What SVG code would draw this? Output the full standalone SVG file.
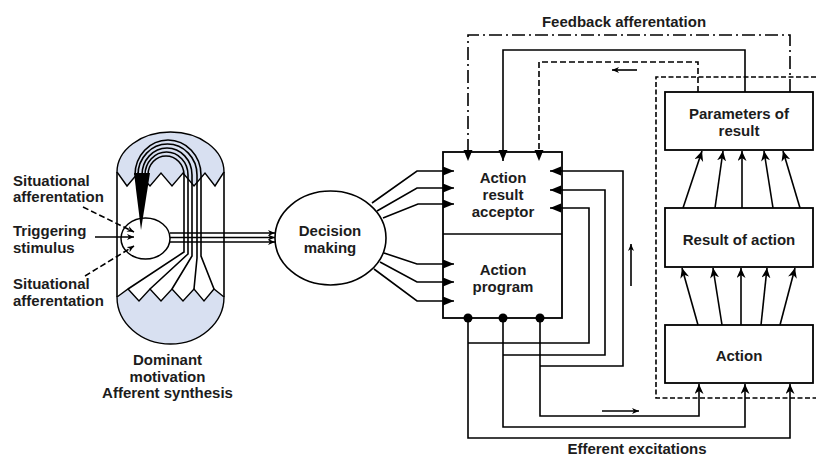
<svg xmlns="http://www.w3.org/2000/svg" width="816" height="458" viewBox="0 0 816 458">
  <defs>
    <style>
      .ln { stroke: #000; stroke-width: 1.6; fill: none; }
      .dash { stroke: #000; stroke-width: 1.6; fill: none; stroke-dasharray: 6 3; }
      .dashb { stroke: #000; stroke-width: 1.6; fill: none; stroke-dasharray: 5 2.5; }
      .dashdot { stroke: #000; stroke-width: 1.6; fill: none; stroke-dasharray: 13 4 2 4; }
      .box { stroke: #000; stroke-width: 1.8; fill: #fff; }
      .dome { fill: #d8e0f1; stroke: #000; stroke-width: 1.4; }
      text { font-family: "Liberation Sans", Arial, sans-serif; font-weight: bold; font-size: 15px; fill: #1c1c1c; }
      .c { text-anchor: middle; }
    </style>
    <marker id="tri" markerUnits="userSpaceOnUse" markerWidth="12" markerHeight="10" refX="11" refY="4.5" orient="auto">
      <path d="M0,0 L11,4.5 L0,9 z" fill="#000"/>
    </marker>
    <marker id="barb" markerUnits="userSpaceOnUse" markerWidth="11" markerHeight="10" refX="10" refY="4.5" orient="auto">
      <path d="M0,0 L10,4.5 L0,9 L3,4.5 z" fill="#000"/>
    </marker>
    <marker id="sm" markerUnits="userSpaceOnUse" markerWidth="8" markerHeight="7" refX="7" refY="3" orient="auto">
      <path d="M0,0 L7,3 L0,6 L2,3 z" fill="#000"/>
    </marker>
  </defs>

  <!-- Afferent synthesis capsule -->
  <g id="afferent-synthesis">
    <path class="dome" d="M117,172 A53.5,40 0 0 1 224,172 L215,186 L205,173 L194,186 L183,173 L172,186 L161,173 L150,186 L138,173 L127,186 z"/>
    <path class="dome" d="M117,297 A53.5,47 0 0 0 224,297 L214,289 L204,301 L194,289 L183,301 L172,289 L161,301 L150,289 L139,301 L128,289 z"/>
    <line class="ln" x1="117" y1="172" x2="117" y2="297"/>
    <line class="ln" x1="224" y1="172" x2="224" y2="297"/>
    <!-- converging pathways -->
    <path class="ln" stroke-width="1.4" d="M135,175 A33,35 0 0 1 201,175 L201,256 L214,289"/>
    <path class="ln" stroke-width="1.4" d="M138,175 A29.5,31 0 0 1 197,175 L197,258 L194,289"/>
    <path class="ln" stroke-width="1.4" d="M142,175 A25,27 0 0 1 192,175 L192,256 L172,289"/>
    <path class="ln" stroke-width="1.4" d="M145,175 A21.5,23 0 0 1 188,175 L188,254 L150,289"/>
    <path class="ln" stroke-width="1.4" d="M148,175 A18,19 0 0 1 184,175 L184,252 L128,289"/>
    <ellipse cx="145.5" cy="238.5" rx="24.5" ry="20.5" fill="#fff" stroke="#000" stroke-width="1.5"/>
    <path d="M134,173 L150,173 L141,230 z" fill="#000"/>
    <text x="167.5" y="365" class="c">Dominant</text>
    <text x="167.5" y="382" class="c">motivation</text>
    <text x="167.5" y="398" class="c">Afferent synthesis</text>
  </g>

  <g id="inputs">
    <text x="13" y="186">Situational</text>
    <text x="13" y="202">afferentation</text>
    <text x="13" y="236">Triggering</text>
    <text x="13" y="253">stimulus</text>
    <text x="13" y="289">Situational</text>
    <text x="13" y="306">afferentation</text>
  </g>

  <!-- Decision making -->
  <g id="decision">
    <ellipse cx="330.5" cy="238" rx="55.5" ry="47" fill="#fff" stroke="#000" stroke-width="1.6"/>
    <text x="330" y="236" class="c">Decision</text>
    <text x="330" y="253" class="c">making</text>
  </g>

  <!-- Acceptor / program block -->
  <g id="acceptor-program">
    <rect class="box" x="443" y="152" width="119" height="166"/>
    <line class="ln" x1="443" y1="234" x2="562" y2="234"/>
    <text x="503" y="183" class="c">Action</text>
    <text x="503" y="200" class="c">result</text>
    <text x="503" y="217" class="c">acceptor</text>
    <text x="503" y="275" class="c">Action</text>
    <text x="503" y="292" class="c">program</text>
    <circle cx="468" cy="318" r="4.5" fill="#000"/>
    <circle cx="503" cy="318" r="4.5" fill="#000"/>
    <circle cx="540" cy="318" r="4.5" fill="#000"/>
  </g>

  <!-- Outcome chain -->
  <g id="parameters">
    <rect class="box" x="665" y="92" width="148" height="58"/>
    <text x="739" y="119" class="c">Parameters of</text>
    <text x="739" y="136" class="c">result</text>
  </g>
  <g id="result">
    <rect class="box" x="665" y="208" width="148" height="59"/>
    <text x="739" y="245" class="c">Result of action</text>
  </g>
  <g id="action">
    <rect class="box" x="665" y="325" width="148" height="58"/>
    <text x="739" y="361" class="c">Action</text>
  </g>

  <g id="connectors">
    <!-- afferent inputs into the trigger circle -->
    <line class="dash" stroke-width="1.3" stroke-dasharray="4 3" x1="83" y1="207" x2="134" y2="232" marker-end="url(#sm)"/>
    <line class="ln" stroke-width="1.3" x1="95" y1="237" x2="134" y2="237" marker-end="url(#sm)"/>
    <line class="dash" stroke-width="1.3" stroke-dasharray="4 3" x1="85" y1="276" x2="134" y2="246" marker-end="url(#sm)"/>

    <!-- synthesis to decision -->
    <line class="ln" stroke-width="1.4" x1="170" y1="233" x2="275" y2="233" marker-end="url(#sm)"/>
    <line class="ln" stroke-width="1.4" x1="170" y1="237.5" x2="275" y2="237.5" marker-end="url(#sm)"/>
    <line class="ln" stroke-width="1.4" x1="170" y1="242" x2="275" y2="242" marker-end="url(#sm)"/>

    <!-- decision to acceptor and program -->
    <polyline class="ln" points="372,203 417,171 454,171" marker-end="url(#tri)"/>
    <polyline class="ln" points="377,211 417,188 454,188" marker-end="url(#tri)"/>
    <polyline class="ln" points="383,218 418,204 454,204" marker-end="url(#tri)"/>
    <polyline class="ln" points="384,253 417,264 454,264" marker-end="url(#tri)"/>
    <polyline class="ln" points="380,262 417,282 454,282" marker-end="url(#tri)"/>
    <polyline class="ln" points="374,269 417,301 454,301" marker-end="url(#tri)"/>

    <!-- feedback afferentation -->
    <polyline class="dashdot" points="790,92 790,35 468,35 468,161" marker-end="url(#tri)"/>
    <polyline class="ln" points="745,92 745,50 503,50 503,161" marker-end="url(#tri)"/>
    <polyline class="dash" points="698,92 698,62 539,62 539,161" marker-end="url(#tri)"/>
    <line class="ln" x1="637" y1="70" x2="612" y2="70" marker-end="url(#sm)"/>

    <!-- boundary of the executed action -->
    <polyline class="dashb" points="816,77 656,77 656,398 816,398"/>

    <!-- collaterals from the program back to the acceptor -->
    <polyline class="ln" points="468,343 589,343 589,208 550,208" marker-end="url(#tri)"/>
    <polyline class="ln" points="503,355 605,355 605,190 550,190" marker-end="url(#tri)"/>
    <polyline class="ln" points="540,366 623,366 623,171 550,171" marker-end="url(#tri)"/>
    <line class="ln" x1="631" y1="286" x2="631" y2="244" marker-end="url(#sm)"/>

    <!-- efferent excitations -->
    <polyline class="ln" points="468,318 468,438 790,438 790,384" marker-end="url(#barb)"/>
    <polyline class="ln" points="503,318 503,427 745,427 745,384" marker-end="url(#barb)"/>
    <polyline class="ln" points="540,318 540,416 699,416 699,384" marker-end="url(#barb)"/>
    <line class="ln" x1="602" y1="411" x2="639" y2="411" marker-end="url(#sm)"/>

    <!-- action to result -->
    <line class="ln" x1="698" y1="325" x2="682" y2="268" marker-end="url(#barb)"/>
    <line class="ln" x1="722" y1="325" x2="713" y2="268" marker-end="url(#barb)"/>
    <line class="ln" x1="741" y1="325" x2="741" y2="268" marker-end="url(#barb)"/>
    <line class="ln" x1="761" y1="325" x2="767" y2="268" marker-end="url(#barb)"/>
    <line class="ln" x1="780" y1="325" x2="795" y2="268" marker-end="url(#barb)"/>

    <!-- result to parameters -->
    <line class="ln" x1="683" y1="208" x2="702" y2="151" marker-end="url(#barb)"/>
    <line class="ln" x1="715" y1="208" x2="723" y2="151" marker-end="url(#barb)"/>
    <line class="ln" x1="742" y1="208" x2="742" y2="151" marker-end="url(#barb)"/>
    <line class="ln" x1="773" y1="208" x2="764" y2="151" marker-end="url(#barb)"/>
    <line class="ln" x1="800" y1="208" x2="783" y2="151" marker-end="url(#barb)"/>
  </g>

  <text x="624" y="27" class="c">Feedback afferentation</text>
  <text x="637" y="454" class="c">Efferent excitations</text>
</svg>
